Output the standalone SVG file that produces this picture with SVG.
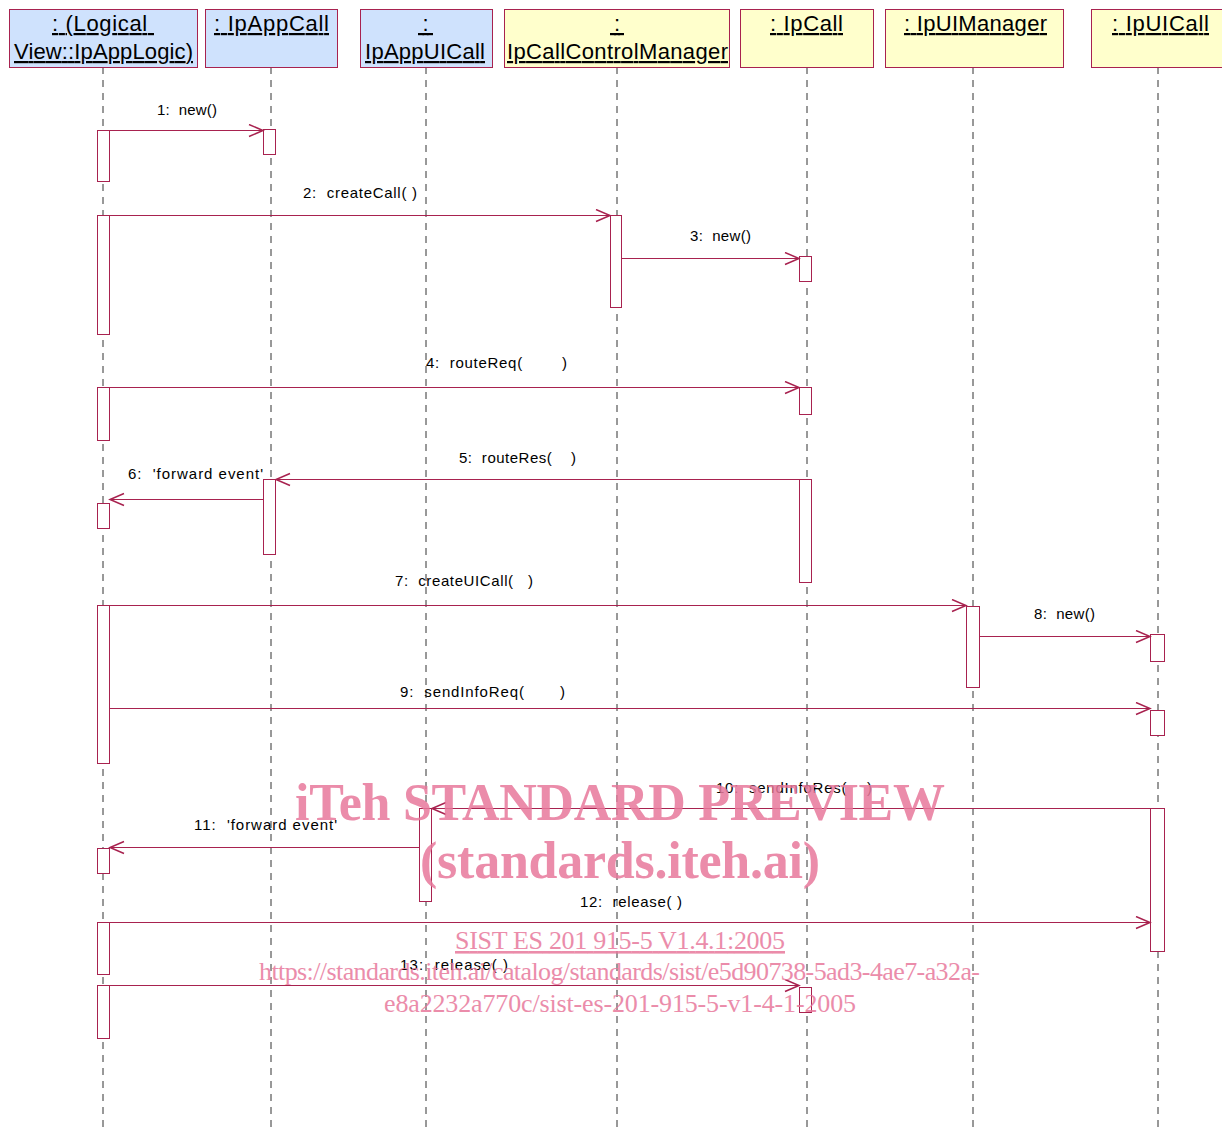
<svg xmlns="http://www.w3.org/2000/svg" width="1222" height="1131" viewBox="0 0 1222 1131">
<style>
.hdrB{fill:#cfe2fd;stroke:#a8224f;stroke-width:1}
.hdrY{fill:#ffffcc;stroke:#a8224f;stroke-width:1}
.ht{font-family:"Liberation Sans",Arial,sans-serif;font-size:22px;fill:#000;text-decoration:underline}
.life{stroke:#333;stroke-width:1;stroke-dasharray:7 6;fill:none}
.act{fill:#fff;stroke:#a8224f;stroke-width:1}
.msg{stroke:#a8224f;stroke-width:1.2;fill:none;marker-end:url(#arr)}
.lbl{font-family:"Liberation Sans",Arial,sans-serif;font-size:15px;fill:#000}
.wm{font-family:"Liberation Serif","Times New Roman",serif;fill:#e8799c;opacity:0.85}
</style>
<defs>
<marker id="arr" markerUnits="userSpaceOnUse" markerWidth="18" markerHeight="16" refX="15" refY="7" orient="auto">
<path d="M1,1 L15,7 L1,13" fill="none" stroke="#a8224f" stroke-width="1.5"/>
</marker>
</defs>
<rect width="1222" height="1131" fill="#fff"/>

<g id="lifelines">
<line class="life" x1="103" y1="67" x2="103" y2="1131"/>
<line class="life" x1="271" y1="67" x2="271" y2="1131"/>
<line class="life" x1="426" y1="67" x2="426" y2="1131"/>
<line class="life" x1="617" y1="67" x2="617" y2="1131"/>
<line class="life" x1="807" y1="67" x2="807" y2="1131"/>
<line class="life" x1="973" y1="67" x2="973" y2="1131"/>
<line class="life" x1="1158" y1="67" x2="1158" y2="1131"/>
</g>

<g id="node-applogic">
<rect class="hdrB" x="9.5" y="9.5" width="188" height="58"/>
<text class="ht" x="52" y="31" textLength="102" xml:space="preserve">: (Logical </text>
<text class="ht" x="14" y="59" textLength="179">View::IpAppLogic)</text>
</g>
<g id="node-ipappcall">
<rect class="hdrB" x="205.5" y="9.5" width="132" height="58"/>
<text class="ht" x="214" y="31" textLength="115">: IpAppCall</text>
</g>
<g id="node-ipappuicall">
<rect class="hdrB" x="360.5" y="9.5" width="132" height="58"/>
<text class="ht" x="418" y="31" textLength="15" xml:space="preserve"> : </text>
<text class="ht" x="365" y="59" textLength="120">IpAppUICall</text>
</g>
<g id="node-ipcallcontrolmanager">
<rect class="hdrY" x="504.5" y="9.5" width="225" height="58"/>
<text class="ht" x="610" y="31" textLength="14" xml:space="preserve"> : </text>
<text class="ht" x="507" y="59" textLength="221">IpCallControlManager</text>
</g>
<g id="node-ipcall">
<rect class="hdrY" x="740.5" y="9.5" width="133" height="58"/>
<text class="ht" x="770" y="31" textLength="73">: IpCall</text>
</g>
<g id="node-ipuimanager">
<rect class="hdrY" x="885.5" y="9.5" width="178" height="58"/>
<text class="ht" x="904" y="31" textLength="143">: IpUIManager</text>
</g>
<g id="node-ipuicall">
<rect class="hdrY" x="1091.5" y="9.5" width="135" height="58"/>
<text class="ht" x="1112" y="31" textLength="97">: IpUICall</text>
</g>

<g id="activations">
<rect class="act" x="97.5" y="130.5" width="12" height="51"/>
<rect class="act" x="263.5" y="129.5" width="12" height="25"/>
<rect class="act" x="97.5" y="215.5" width="12" height="119"/>
<rect class="act" x="610.5" y="215.5" width="11" height="92"/>
<rect class="act" x="799.5" y="256.5" width="12" height="25"/>
<rect class="act" x="97.5" y="387.5" width="12" height="53"/>
<rect class="act" x="799.5" y="387.5" width="12" height="27"/>
<rect class="act" x="799.5" y="479.5" width="12" height="103"/>
<rect class="act" x="263.5" y="479.5" width="12" height="75"/>
<rect class="act" x="97.5" y="503.5" width="12" height="25"/>
<rect class="act" x="97.5" y="605.5" width="12" height="158"/>
<rect class="act" x="966.5" y="606.5" width="13" height="81"/>
<rect class="act" x="1150.5" y="634.5" width="14" height="27"/>
<rect class="act" x="1150.5" y="710.5" width="14" height="25"/>
<rect class="act" x="1150.5" y="808.5" width="14" height="143"/>
<rect class="act" x="419.5" y="808.5" width="12" height="93"/>
<rect class="act" x="97.5" y="848.5" width="12" height="25"/>
<rect class="act" x="97.5" y="922.5" width="12" height="52"/>
<rect class="act" x="97.5" y="985.5" width="12" height="53"/>
<rect class="act" x="799.5" y="987.5" width="12" height="25"/>
</g>

<g id="connectors">
<line class="msg" x1="110" y1="130.5" x2="263" y2="130.5"/>
<line class="msg" x1="110" y1="215.5" x2="610" y2="215.5"/>
<line class="msg" x1="622" y1="258.5" x2="799" y2="258.5"/>
<line class="msg" x1="110" y1="387.5" x2="799" y2="387.5"/>
<line class="msg" x1="799" y1="479.5" x2="276" y2="479.5"/>
<line class="msg" x1="263" y1="499.5" x2="110" y2="499.5"/>
<line class="msg" x1="110" y1="605.5" x2="966" y2="605.5"/>
<line class="msg" x1="980" y1="636.5" x2="1150" y2="636.5"/>
<line class="msg" x1="110" y1="708.5" x2="1150" y2="708.5"/>
<line class="msg" x1="1150" y1="808.5" x2="432" y2="808.5"/>
<line class="msg" x1="419" y1="847.5" x2="110" y2="847.5"/>
<line class="msg" x1="110" y1="922.5" x2="1150" y2="922.5"/>
<line class="msg" x1="110" y1="985.5" x2="799" y2="985.5"/>
</g>

<g id="labels">
<text class="lbl" x="157" y="115" textLength="60" xml:space="preserve">1:  new()</text>
<text class="lbl" x="303" y="198" textLength="114" xml:space="preserve">2:  createCall( )</text>
<text class="lbl" x="690" y="241" textLength="61" xml:space="preserve">3:  new()</text>
<text class="lbl" x="426" y="368" textLength="141" xml:space="preserve">4:  routeReq(        )</text>
<text class="lbl" x="459" y="463" textLength="117" xml:space="preserve">5:  routeRes(    )</text>
<text class="lbl" x="128" y="479" textLength="135" xml:space="preserve">6:  'forward event'</text>
<text class="lbl" x="395" y="586" textLength="138" xml:space="preserve">7:  createUICall(   )</text>
<text class="lbl" x="1034" y="619" textLength="61" xml:space="preserve">8:  new()</text>
<text class="lbl" x="400" y="697" textLength="165" xml:space="preserve">9:  sendInfoReq(       )</text>
<text class="lbl" x="716" y="793" textLength="156" xml:space="preserve">10:  sendInfoRes(    )</text>
<text class="lbl" x="194" y="830" textLength="143" xml:space="preserve">11:  'forward event'</text>
<text class="lbl" x="580" y="907" textLength="102" xml:space="preserve">12:  release( )</text>
<text class="lbl" x="400" y="970" textLength="108" xml:space="preserve">13:  release( )</text>
</g>

<g id="watermark">
<text class="wm" x="295" y="820" font-size="52" font-weight="bold" textLength="650">iTeh STANDARD PREVIEW</text>
<text class="wm" x="420" y="878" font-size="52" font-weight="bold" textLength="400">(standards.iteh.ai)</text>
<text class="wm" x="455" y="949" font-size="26" text-decoration="underline" textLength="330">SIST ES 201 915-5 V1.4.1:2005</text>
<text class="wm" x="259" y="980" font-size="26" textLength="721">https://standards.iteh.ai/catalog/standards/sist/e5d90738-5ad3-4ae7-a32a-</text>
<text class="wm" x="384" y="1012" font-size="26" textLength="472">e8a2232a770c/sist-es-201-915-5-v1-4-1-2005</text>
</g>
</svg>
